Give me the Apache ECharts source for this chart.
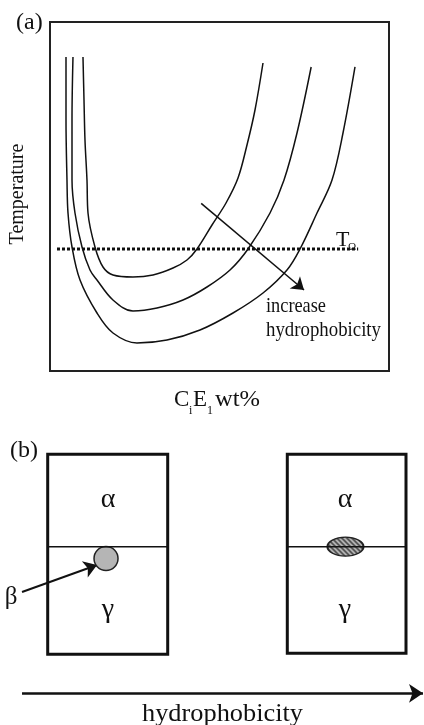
<!DOCTYPE html>
<html><head><meta charset="utf-8">
<script src="https://cdn.jsdelivr.net/npm/echarts@6/dist/echarts.min.js"></script>
<style>html,body{margin:0;padding:0;background:#fff}#c{width:424px;height:725px}</style>
</head><body><div id="c"></div>
<script>
// ---- panel (a) data: x = CiE1 wt% (0-100 schematic), y = temperature (0-100 schematic)
const curveInner = [[9.73,89.97],[10.03,77.65],[10.32,66.19],[10.91,54.73],[11.21,45.27],[13.27,35.53],[15.63,29.80],[18.58,27.51],[24.48,26.93],[30.38,27.51],[36.28,29.51],[40.41,31.81],[43.36,34.96],[47.79,41.83],[51.92,48.14],[55.46,55.30],[58.11,64.76],[60.47,74.79],[62.83,88.25]];
const curveMiddle = [[6.78,89.97],[6.49,71.92],[6.49,54.73],[7.37,45.27],[9.44,35.53],[11.80,28.94],[13.86,26.07],[18.58,20.34],[24.48,17.19],[31.56,18.05],[39.23,20.34],[46.31,24.07],[53.10,28.94],[58.41,34.96],[64.90,45.27],[69.03,54.73],[72.86,68.19],[77.04,87.11]];
const curveOuter = [[4.72,89.97],[4.72,71.92],[5.01,54.73],[5.31,45.27],[6.49,35.53],[8.85,26.07],[13.86,16.62],[18.58,10.89],[25.66,8.02],[34.51,8.88],[44.25,11.75],[53.98,16.62],[62.83,22.35],[69.91,28.94],[73.75,34.96],[78.76,45.27],[83.19,54.73],[86.43,68.19],[89.97,87.11]];
const tOmegaLine = [[2.06,34.96],[90.9,34.96]];
const hydArrowA = [[44.6,48.05],[74.93,23.21]];
// ---- panel (b) data, in box units (0-1)
const dividerLeft = [[0,0.538],[1,0.538]];
const dividerRight = [[0,0.536],[1,0.536]];
const betaDrop = [[0.486,0.479]];
const betaFilm = [[0.49,0.536]];
const betaArrow = [[-0.214,0.3115],[0.411,0.4465]];
const hydArrowB = [[-0.214,-0.195],[3.1275,-0.195]];

const serif = '"Liberation Serif","DejaVu Serif",serif';
function tw(str, size){const c=document.createElement('canvas').getContext('2d');c.font=size+'px '+serif;return c.measureText(str).width;}
function txt(str,x,y,size,opt){opt=opt||{};const s={type:'text',x:x,y:y,style:{text:str,font:size+'px '+serif,fill:'#111',align:opt.align||'left',verticalAlign:opt.va||'middle'}};
  if(opt.w){s.scaleX=opt.w/tw(str,size);} if(opt.rot){s.rotation=opt.rot;} return s;}

// hatch pattern
const pc=document.createElement('canvas');pc.width=5;pc.height=5;const pctx=pc.getContext('2d');
pctx.fillStyle='#c8c8c8';pctx.fillRect(0,0,5,5);pctx.strokeStyle='#3a3a3a';pctx.lineWidth=1.6;
pctx.beginPath();pctx.moveTo(-1,-1);pctx.lineTo(6,6);pctx.moveTo(-1,4);pctx.lineTo(1,6);pctx.moveTo(4,-1);pctx.lineTo(6,1);pctx.stroke();
const filmSize=[36,19];

const chart=echarts.init(document.getElementById('c'),null,{renderer:'canvas'});
const hideAx=(g,min,max)=>({type:'value',gridIndex:g,min:min,max:max,show:false});
const curve=(d)=>({type:'line',xAxisIndex:0,yAxisIndex:0,data:d,smooth:0.35,symbol:'none',lineStyle:{color:'#111',width:1.5}});
chart.setOption({
  animation:false,
  grid:[
    {left:50,top:22,width:339,height:349,show:true,borderColor:'#222',borderWidth:2},
    {left:47.7,top:454.3,width:120,height:200,show:true,borderColor:'#111',borderWidth:3},
    {left:287.3,top:454.3,width:118.7,height:199,show:true,borderColor:'#111',borderWidth:3}
  ],
  xAxis:[hideAx(0,0,100),hideAx(1,0,1),hideAx(2,0,1)],
  yAxis:[hideAx(0,0,100),hideAx(1,0,1),hideAx(2,0,1)],
  series:[
    curve(curveInner),curve(curveMiddle),curve(curveOuter),
    {type:'line',xAxisIndex:0,yAxisIndex:0,data:tOmegaLine,symbol:'none',lineStyle:{color:'#111',width:3,type:[3,2]}},
    {type:'lines',coordinateSystem:'cartesian2d',xAxisIndex:0,yAxisIndex:0,data:[{coords:hydArrowA}],symbol:['none','arrow'],symbolSize:12,lineStyle:{color:'#111',width:1.5,opacity:1}},
    {type:'line',xAxisIndex:1,yAxisIndex:1,data:dividerLeft,symbol:'none',lineStyle:{color:'#111',width:1.5}},
    {type:'line',xAxisIndex:2,yAxisIndex:2,data:dividerRight,symbol:'none',lineStyle:{color:'#111',width:1.5}},
    {type:'scatter',xAxisIndex:1,yAxisIndex:1,data:betaDrop,symbolSize:24,itemStyle:{color:'#b5b5b5',borderColor:'#222',borderWidth:1.5,opacity:1}},
    {type:'scatter',xAxisIndex:2,yAxisIndex:2,data:betaFilm,symbolSize:filmSize,itemStyle:{color:{image:pc,repeat:'repeat',scaleX:2/filmSize[0],scaleY:2/filmSize[1]},borderColor:'#222',borderWidth:1.5,opacity:1}},
    {type:'lines',coordinateSystem:'cartesian2d',xAxisIndex:1,yAxisIndex:1,clip:false,data:[{coords:betaArrow}],symbol:['none','arrow'],symbolSize:13,lineStyle:{color:'#111',width:2,opacity:1}},
    {type:'lines',coordinateSystem:'cartesian2d',xAxisIndex:1,yAxisIndex:1,clip:false,data:[{coords:hydArrowB}],symbol:['none','arrow'],symbolSize:14,lineStyle:{color:'#111',width:2.5,opacity:1}}
  ],
  graphic:[
    txt('(a)',16,23,24),
    txt('Temperature',18,194,20,{align:'center',rot:Math.PI/2}),
    txt('C',174,400,23),txt('i',189,411,12),txt('E',193,400,23),txt('1',207,411,12),txt('wt%',215,400,23,{w:45}),
    txt('T',336,240,22),txt('Ω',348,247,11),
    txt('increase',266,306,22,{w:60}),
    txt('hydrophobicity',266,330,22,{w:115}),
    txt('(b)',10,451,24),
    txt('α',108,500,28,{align:'center'}),txt('γ',108,610,28,{align:'center'}),
    txt('α',345,500,28,{align:'center'}),txt('γ',345,610,28,{align:'center'}),
    txt('β',11,597,25,{align:'center'}),
    txt('hydrophobicity',142,714,25,{w:161})
  ]
});
</script></body></html>
